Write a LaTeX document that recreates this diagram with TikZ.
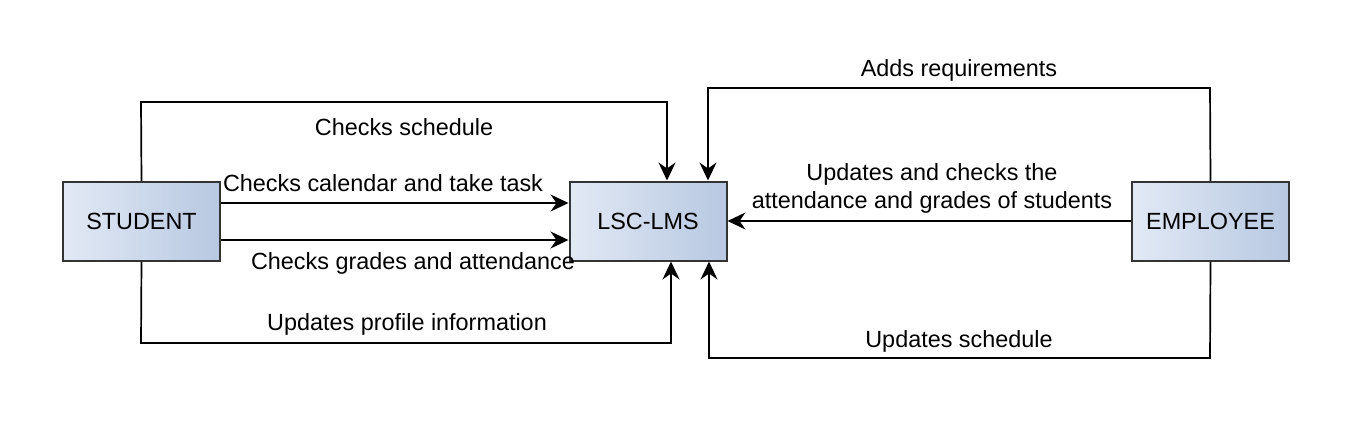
\documentclass[tikz,border=0pt]{standalone}
\usepackage{fontspec}
\setmainfont{Liberation Sans}
\usetikzlibrary{arrows.meta}
\definecolor{boxl}{HTML}{E2E9F5}
\definecolor{boxr}{HTML}{B7C8E1}
\definecolor{boxd}{HTML}{333333}
\tikzset{
  entity/.style={draw=boxd, line width=2pt, left color=boxl, right color=boxr,
    minimum width=157pt, minimum height=79pt, inner sep=0pt, font=\fontsize{23.4}{27}\selectfont},
  flow/.style={line width=1.7pt, -{Stealth[length=18pt,width=17pt,inset=6pt]}},
  lbl/.style={font=\fontsize{23.4}{28}\selectfont, inner sep=0pt, align=center}
}
\begin{document}
\begin{tikzpicture}[x=1pt,y=-1pt]
\useasboundingbox (0,0) rectangle (1359,444);
\node[entity] (stu) at (141.5,221.5) {STUDENT};
\node[entity] (lms) at (648,221) {LSC-LMS};
\node[entity] (emp) at (1210.5,221.5) {EMPLOYEE};
% student top
\coordinate (s1) at (141,102);
\coordinate (s2) at (667,102);
\draw[flow] (stu.north) -- (s1) -- (s2) -- (s2 |- lms.north);
% student bottom
\coordinate (s3) at (141,343);
\coordinate (s4) at (671,343);
\draw[flow] (stu.south) -- (s3) -- (s4) -- (s4 |- lms.south);
% student horizontal
\draw[flow] (stu.east |- 0,203) -- (lms.west |- 0,203);
\draw[flow] (stu.east |- 0,240) -- (lms.west |- 0,240);
% employee top
\coordinate (e1) at (1210,88);
\coordinate (e2) at (708,88);
\draw[flow] (emp.north) -- (e1) -- (e2) -- (e2 |- lms.north);
% employee bottom
\coordinate (e3) at (1210,358);
\coordinate (e4) at (709,358);
\draw[flow] (emp.south) -- (e3) -- (e4) -- (e4 |- lms.south);
% employee horizontal
\draw[flow] (emp.west |- 0,221) -- (lms.east |- 0,221);
% labels
\node[lbl] (l1) at (404,127) {Checks schedule};
\node[lbl] (l2) at (383,183) {Checks calendar and take task};
\node[lbl] (l3) at (413,263) {Checks grades and attendance};
\node[lbl] (l4) at (407,324) {Updates profile information};
\node[lbl] (l5) at (959,70) {Adds requirements};
\node[lbl] (l6) at (932,188) {Updates and checks the\\attendance and grades of students};
\node[lbl] (l7) at (959,341) {Updates schedule};
\end{tikzpicture}
\end{document}
